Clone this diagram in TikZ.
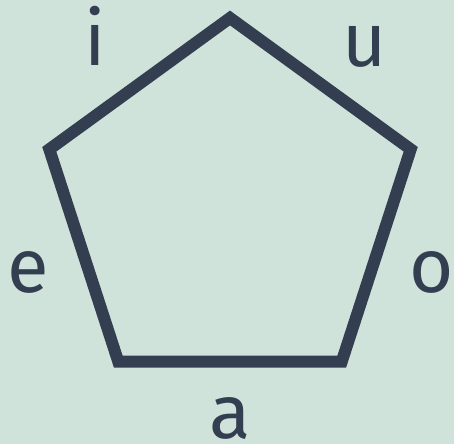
\documentclass[tikz,border=0pt]{standalone}
\usepackage{fontspec}
\setmainfont{Fira Sans}
\definecolor{bgmint}{HTML}{D0E3DB}
\definecolor{slate}{HTML}{333F50}
\begin{document}
\begin{tikzpicture}[x=1pt,y=1pt,
  edge/.style={draw=slate,line width=12pt,line join=miter},
  vowel/.style={text=slate,font=\fontsize{76}{80}\selectfont,anchor=base,inner sep=0pt}]
\fill[bgmint] (0,0) rectangle (454,444);
\useasboundingbox (0,0) rectangle (454,444);
\coordinate (top) at (230,426);
\coordinate (right) at (410.7,294.7);
\coordinate (br) at (341.7,82.3);
\coordinate (bl) at (118.3,82.3);
\coordinate (left) at (49.3,294.7);
\draw[edge] (top) -- (right) -- (br) -- (bl) -- (left) -- cycle;
\node[vowel] (i) at (95,378) {i};
\node[vowel] (u) at (365,377) {u};
\node[vowel] (e) at (28,151) {e};
\node[vowel] (o) at (432,151) {o};
\node[vowel] (a) at (230,6) {a};
\end{tikzpicture}
\end{document}
